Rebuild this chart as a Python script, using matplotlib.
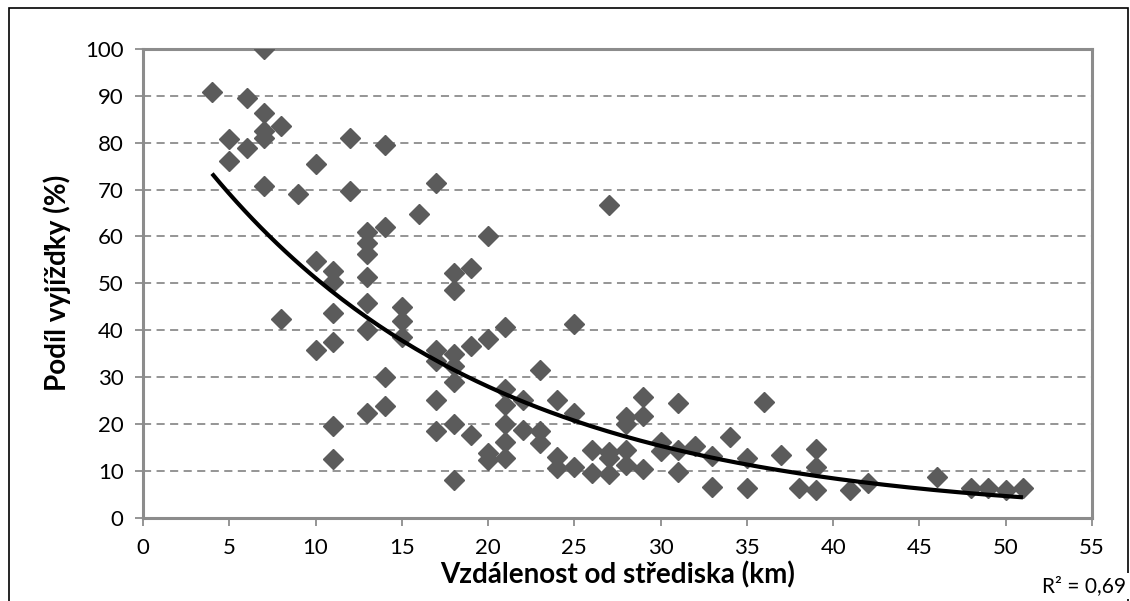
import numpy as np
import matplotlib
matplotlib.use("Agg")
import matplotlib.pyplot as plt
from matplotlib.patches import Rectangle

plt.rcParams["font.family"] = ["Lato", "DejaVu Sans"]

# distance from centre (km) and commuting share (%)
distance = [
    4,
    5, 5,
    6, 6,
    7, 7, 7, 7, 7,
    8, 8,
    9,
    10, 10, 10,
    11, 11, 11, 11, 11, 11,
    12, 12,
    13, 13, 13, 13, 13, 13, 13,
    14, 14, 14, 14,
    15, 15, 15,
    16,
    17, 17, 17, 17, 17,
    18, 18, 18, 18, 18, 18, 18,
    19, 19, 19,
    20, 20, 20, 20,
    21, 21, 21, 21, 21, 21,
    22, 22,
    23, 23, 23,
    24, 24, 24,
    25, 25, 25,
    26, 26,
    27, 27, 27, 27,
    28, 28, 28, 28,
    29, 29, 29,
    30, 30,
    31, 31, 31,
    32,
    33, 33,
    34,
    35, 35,
    36,
    37,
    38,
    39, 39, 39,
    41,
    42,
    46,
    48,
    49,
    50,
    51,
]
share = [
    90.9,
    80.7, 76.1,
    89.5, 78.8,
    100.0, 86.3, 82.4, 80.9, 70.8,
    83.6, 42.3,
    69.0,
    75.5, 54.8, 35.8,
    52.7, 50.2, 43.6, 37.5, 19.6, 12.4,
    80.9, 69.7,
    61.0, 58.5, 56.3, 51.4, 45.7, 40.0, 22.2,
    79.5, 61.9, 29.9, 23.8,
    44.9, 41.9, 38.5,
    64.8,
    71.3, 35.8, 33.5, 25.1, 18.5,
    52.2, 48.6, 35.0, 32.3, 29.0, 20.0, 8.0,
    53.2, 36.6, 17.7,
    60.1, 38.2, 13.7, 12.3,
    40.7, 27.5, 24.1, 20.0, 16.1, 12.6,
    25.0, 18.7,
    31.5, 18.5, 15.8,
    25.0, 13.0, 10.6,
    41.3, 22.3, 10.8,
    14.5, 9.5,
    66.7, 13.9, 12.6, 9.2,
    21.4, 19.9, 14.4, 11.1,
    25.8, 21.7, 10.3,
    16.1, 14.2,
    24.5, 14.4, 9.7,
    15.3,
    13.2, 6.5,
    17.1,
    12.6, 6.4,
    24.7,
    13.3,
    6.2,
    14.6, 10.7, 5.9,
    5.9,
    7.3,
    8.7,
    6.2,
    6.4,
    5.9,
    6.2,
]
x_ticks = [0, 5, 10, 15, 20, 25, 30, 35, 40, 45, 50, 55]
y_ticks = [0, 10, 20, 30, 40, 50, 60, 70, 80, 90, 100]
r2_text = "R² = 0,69"

x = np.array(distance, dtype=float)
y = np.array(share, dtype=float)

# exponential trendline, same way Excel does it (linear fit of ln y)
b, ln_a = np.polyfit(x, np.log(y), 1)
xs = np.linspace(x.min(), x.max(), 200)
ys = np.exp(ln_a) * np.exp(b * xs)

fig = plt.figure(figsize=(11.30, 6.01), dpi=100)
ax = fig.add_axes([143 / 1130, 1 - 517.5 / 601, (1092 - 143) / 1130, (517.5 - 49) / 601])

grid_c = "#8c8c8c"
for v in y_ticks[1:-1]:
    ax.axhline(v, color=grid_c, lw=1.3, ls=(0, (4.5, 3)), zorder=1)

ax.plot(x, y, ls="none", marker="D", ms=10, color="#5b5b5b", mec="#5b5b5b", zorder=3)
ax.plot(xs, ys, color="black", lw=3, solid_capstyle="butt", zorder=4)

ax.set_xlim(0, 55)
ax.set_ylim(0, 100)
ax.set_xticks(x_ticks)
ax.set_yticks(y_ticks)
ax.tick_params(axis="both", direction="out", length=6, width=1.3, color=grid_c,
               labelsize=16, labelcolor="black")
ax.tick_params(axis="x", pad=9)
ax.tick_params(axis="y", pad=8)
for s in ax.spines.values():
    s.set_color(grid_c)
    s.set_linewidth(2.2)

ax.set_xlabel("Vzdálenost od střediska (km)", fontsize=20, fontweight="bold", labelpad=2)
ax.set_ylabel("Podíl vyjížďky (%)", fontsize=20, fontweight="bold", labelpad=10)

# chart area border
fig.patches.append(Rectangle((9 / 1130, -0.05), 1119 / 1130, 1.05 - 8 / 601,
                             transform=fig.transFigure, fill=False,
                             edgecolor="black", lw=1.2))
fig.text(1126 / 1130, 1 - 586 / 601, r2_text, ha="right", va="center", fontsize=15,
         bbox=dict(facecolor="white", edgecolor="none", pad=2))

fig.savefig("out.png", dpi=100)
